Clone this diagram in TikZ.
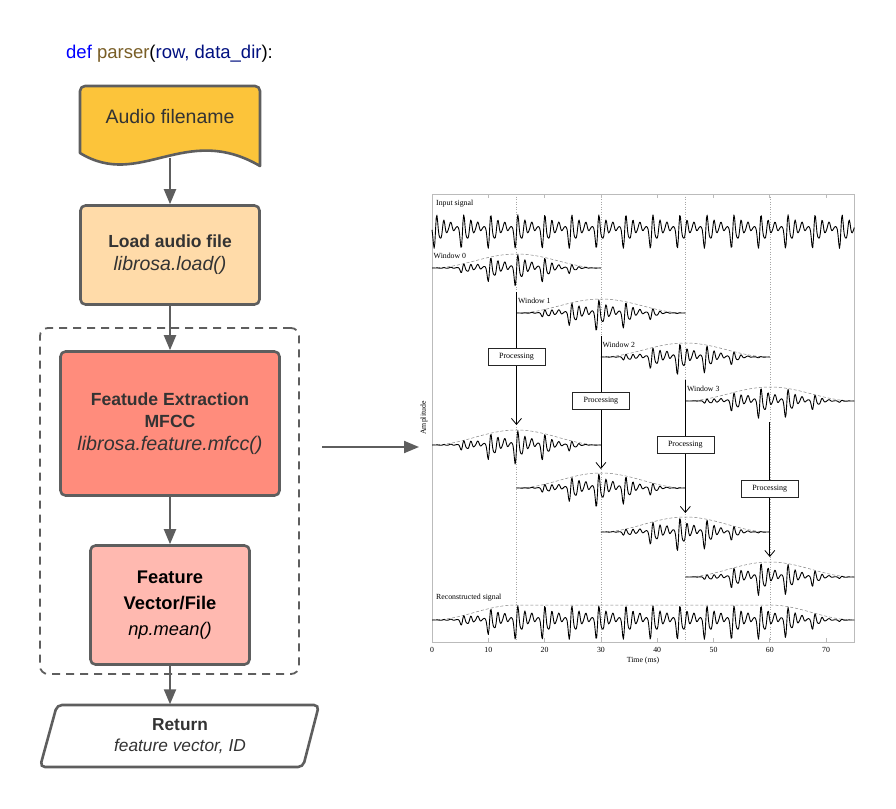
\documentclass[tikz,border=0pt]{standalone}
\usepackage{fontspec}
\setmainfont{Liberation Sans}
\newfontfamily\plotfont{Liberation Serif}
\usetikzlibrary{arrows.meta}
\definecolor{edge}{HTML}{5E5E5E}
\definecolor{txt}{HTML}{333333}
\definecolor{docfill}{HTML}{FCC43A}
\definecolor{loadfill}{HTML}{FFDBA9}
\definecolor{featfill}{HTML}{FF8C7C}
\definecolor{vecfill}{HTML}{FFB9B0}
\definecolor{kwblue}{HTML}{0000FF}
\definecolor{fnbrown}{HTML}{795E26}
\definecolor{varblue}{HTML}{001080}
\definecolor{framecol}{HTML}{BBBBBB}
\begin{document}
\begin{tikzpicture}[x=1pt,y=-1pt,
  declare function={
    ph(\u)=mod(\u,4.8);
    sig(\u)=1.3*(-exp(-ph(\u)/2.2)*sin(360*ph(\u)/1.2)+0.35*exp(-ph(\u)/1.5)*sin(360*ph(\u)/0.65))+0.15*sin(75*\u+200);
    hw(\u,\s)=sin(6*(\u-\s))*sin(6*(\u-\s));
    rw(\u)=hw(min(\u,15),0)*hw(max(\u,60),45);
  },
  flowbox/.style={draw=edge, line width=2.6pt, rounded corners=5pt, align=center, text=txt, inner sep=0pt},
  flowarrow/.style={draw=edge, line width=2pt, -{Triangle[length=15pt,width=12pt]}},
  sigline/.style={black, line width=0.9pt, line join=round},
  envline/.style={gray, line width=0.5pt, dash pattern=on 3pt off 2pt},
  gridline/.style={gray!70, line width=0.5pt, dotted},
  procbox/.style={draw=black!85, line width=0.6pt, fill=white, minimum width=57pt, minimum height=17pt, inner sep=0pt, font=\plotfont\fontsize{8}{9}\selectfont},
  procline/.style={black, line width=0.8pt},
  procarrow/.style={black, line width=0.8pt, -{Straight Barb[length=6pt,width=10pt]}},
  plottext/.style={font=\plotfont\fontsize{7.8}{9}\selectfont, inner sep=0pt}
]
\useasboundingbox (0,0) rectangle (896,808);
\fill[white] (0,0) rectangle (896,808);

% ---------------- title ----------------
\node[anchor=base west, inner sep=0pt, font=\fontsize{18.5}{22}\selectfont] (title) at (66,59)
  {\textcolor{kwblue}{def} \textcolor{fnbrown}{parser}(\textcolor{varblue}{row, data\_dir}):};

% ---------------- flowchart ----------------
\filldraw[fill=docfill, draw=edge, line width=2.6pt, line join=round]
  (80,153) -- (80,91) arc[start angle=180, end angle=270, radius=5]
  -- (255,86) arc[start angle=-90, end angle=0, radius=5]
  -- (260,166) .. controls (185,122) and (140,190) .. (80,153) -- cycle;
\node[text=txt, font=\fontsize{19.5}{23}\selectfont, inner sep=0pt] (doc) at (170,117) {Audio filename};
\coordinate (docbot) at (170,158);

\node[flowbox, fill=loadfill, minimum width=179pt, minimum height=99pt, font=\fontsize{18}{23}\selectfont] (load) at (170,255)
  {{\fontsize{17.5}{23}\selectfont\bfseries Load audio file}\\{\fontsize{19.5}{23}\selectfont\itshape librosa.load()}};

\node[draw=edge, line width=1.8pt, dash pattern=on 8pt off 6pt, rounded corners=8pt, minimum width=259pt, minimum height=346pt, inner sep=0pt] (group) at (169.5,501) {};

\node[flowbox, fill=featfill, minimum width=219pt, minimum height=144pt, font=\fontsize{18}{22.5}\selectfont] (feat) at (170,423.5)
  {{\fontsize{17.6}{22.5}\selectfont\bfseries Featude Extraction}\\{\fontsize{17.6}{22.5}\selectfont\bfseries MFCC}\\{\fontsize{19.7}{22.5}\selectfont\itshape librosa.feature.mfcc()}};

\node[flowbox, fill=vecfill, text=black, minimum width=159pt, minimum height=119pt, font=\fontsize{18.3}{26}\selectfont] (vec) at (170,605)
  {{\bfseries Feature}\\{\bfseries Vector/File}\\{\itshape np.mean()}};

\filldraw[fill=white, draw=edge, line width=2.6pt, rounded corners=5pt]
  (188,705) -- (319,705) -- (303,767) -- (40,767) -- (57,705) -- cycle;
\node[align=center, text=txt, inner sep=0pt, minimum width=240pt, minimum height=63pt, font=\fontsize{17.3}{21}\selectfont] (ret) at (180,736)
  {{\bfseries Return}\\{\itshape feature vector, ID}};

\draw[flowarrow] (docbot) -- (load);
\draw[flowarrow] (load) -- (feat);
\draw[flowarrow] (feat) -- (vec);
\draw[flowarrow] (vec.south) -- (vec.south |- ret.north);
\coordinate (featout) at (322,447);
\coordinate (plotin) at (419,447);
\draw[flowarrow] (featout) -- (plotin);

% ---------------- signal plot ----------------
\foreach \tt in {15,30,45,60} {
  \draw[gridline] ({432+5.63*\tt},194) -- ({432+5.63*\tt},642);
}
\draw[framecol, line width=0.7pt] (432,194) rectangle (854.25,642);
\foreach \tt in {10,20,...,70} {
  \draw[framecol, line width=0.7pt] ({432+5.63*\tt},194) -- ({432+5.63*\tt},198);
  \draw[framecol, line width=0.7pt] ({432+5.63*\tt},642) -- ({432+5.63*\tt},638);
}
\foreach \tt in {0,10,...,70} {
  \node[plottext] (tick\tt) at ({432+5.63*\tt},650) {\tt};
}
\node[plottext] (xlabel) at (643,661) {Time (ms)};
\node[plottext, rotate=90] (ylabel) at (424,418) {Amplitude};

% input signal
\node[plottext, anchor=west] (inlabel) at (436,204) {Input signal};
\draw[sigline] plot[domain=0:75, samples=601, variable=\t] ({432+5.63*\t},{229-15*sig(\t)});

% windows and processed windows
\foreach \k/\wb/\ob in {0/268/445, 1/313/488, 2/357/532, 3/401/577} {
  \pgfmathsetmacro{\ts}{15*\k}
  \pgfmathsetmacro{\te}{15*\k+30}
  \draw[envline] plot[domain=\ts:\te, samples=61, variable=\t] ({432+5.63*\t},{\wb-14*hw(\t,\ts)});
  \draw[sigline] plot[domain=\ts:\te, samples=241, variable=\t] ({432+5.63*\t},{\wb-14*hw(\t,\ts)*sig(\t)});
  \node[plottext, anchor=west] (wlabel\k) at ({433.5+5.63*\ts},{\wb-12}) {Window \k};
  \draw[envline] plot[domain=\ts:\te, samples=61, variable=\t] ({432+5.63*\t},{\ob-15*hw(\t,\ts)});
  \draw[sigline] plot[domain=\ts:\te, samples=241, variable=\t] ({432+5.63*\t},{\ob-15*hw(\t,\ts)*sig(\t)});
}

% reconstructed
\node[plottext, anchor=west] (reclabel) at (436,598) {Reconstructed signal};
\draw[envline] plot[domain=0:75, samples=151, variable=\t] ({432+5.63*\t},{620-15*rw(\t)});
\draw[sigline] plot[domain=0:75, samples=601, variable=\t] ({432+5.63*\t},{620-15*rw(\t)*sig(\t)});

% processing boxes
\node[procbox] (p1) at (516.45,357) {Processing};
\node[procbox] (p2) at (600.9,401) {Processing};
\node[procbox] (p3) at (685.35,445) {Processing};
\node[procbox] (p4) at (769.8,489) {Processing};
\coordinate (w1s) at (516.45,292);
\coordinate (w2s) at (600.9,336);
\coordinate (w3s) at (685.35,380);
\coordinate (w4s) at (769.8,422);
\coordinate (o0p) at (516.45,425);
\coordinate (o1p) at (600.9,469);
\coordinate (o2p) at (685.35,513);
\coordinate (o3p) at (769.8,557);
\draw[procline] (w1s) -- (p1);
\draw[procline] (w2s) -- (p2);
\draw[procline] (w3s) -- (p3);
\draw[procline] (w4s) -- (p4);
\draw[procarrow] (p1) -- (o0p);
\draw[procarrow] (p2) -- (o1p);
\draw[procarrow] (p3) -- (o2p);
\draw[procarrow] (p4) -- (o3p);
\end{tikzpicture}
\end{document}
